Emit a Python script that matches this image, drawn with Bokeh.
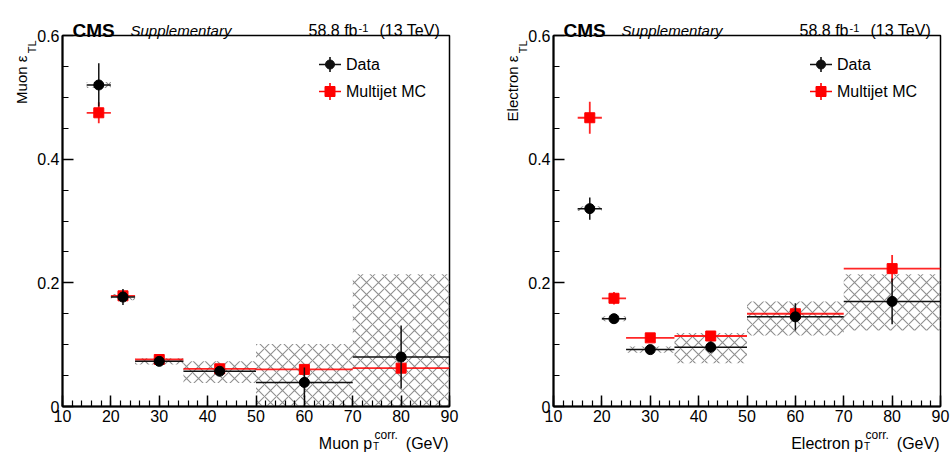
import math

from bokeh.embed import file_html
from bokeh.layouts import column, row
from bokeh.models import (ColumnDataSource, CustomJSTickFormatter, FixedTicker,
                          Label, SingleIntervalTicker, Title)
from bokeh.plotting import figure
from bokeh.resources import INLINE

# pT(corr.) binning (GeV)
bin_lo = [15, 20, 25, 35, 50, 70]
bin_hi = [20, 25, 35, 50, 70, 90]
bin_center = [17.5, 22.5, 30, 42.5, 60, 80]

# Muon tight-to-loose ratio
muon_data = [0.520, 0.177, 0.073, 0.057, 0.039, 0.080]
muon_data_err = [0.035, 0.013, 0.004, 0.004, 0.024, 0.051]
muon_mc = [0.475, 0.179, 0.076, 0.061, 0.060, 0.062]
muon_mc_err = [0.017, 0.006, 0.003, 0.003, 0.004, 0.005]
muon_syst_lo = [0.515, 0.172, 0.068, 0.038, 0.000, 0.000]
muon_syst_hi = [0.525, 0.182, 0.078, 0.073, 0.101, 0.214]

# Electron tight-to-loose ratio
ele_data = [0.320, 0.142, 0.092, 0.096, 0.145, 0.170]
ele_data_err = [0.018, 0.005, 0.004, 0.009, 0.022, 0.037]
ele_mc = [0.467, 0.175, 0.111, 0.114, 0.150, 0.223]
ele_mc_err = [0.026, 0.010, 0.004, 0.008, 0.010, 0.022]
ele_syst_lo = [0.316, 0.138, 0.087, 0.070, 0.115, 0.123]
ele_syst_hi = [0.324, 0.146, 0.097, 0.119, 0.170, 0.214]

# axis ticks
y_major = [0, 0.2, 0.4, 0.6]
y_minor = [0.05, 0.1, 0.15, 0.25, 0.3, 0.35, 0.45, 0.5, 0.55]

X_RANGE = (10, 90)
Y_RANGE = (0, 0.6)
PANEL_W, PANEL_H = 476, 452
FRAME_W, FRAME_H = 387, 371
FRAME_TOP = 35
FONT = "Liberation Sans"
RED = "#ff0000"
BLACK = "#111111"


def to_data(px, py):
    """Frame pixel offsets (from bottom-left) to data coordinates."""
    x = X_RANGE[0] + px * (X_RANGE[1] - X_RANGE[0]) / FRAME_W
    y = Y_RANGE[0] + py * (Y_RANGE[1] - Y_RANGE[0]) / FRAME_H
    return x, y


def put(p, x, y, text, size, units="screen", **kw):
    kw.setdefault("text_baseline", "alphabetic")
    p.add_layout(Label(x=x, y=y, x_units=units, y_units=units, text=text,
                       text_font=FONT, text_font_size=f"{size}px",
                       text_color="black", **kw))


def make_panel(lepton, data, data_err, mc, mc_err, syst_lo, syst_hi,
               border_left):
    p = figure(width=PANEL_W, height=PANEL_H, x_range=X_RANGE,
               y_range=Y_RANGE, output_backend="svg", toolbar_location=None,
               title=None, min_border_left=border_left,
               min_border_right=PANEL_W - border_left - FRAME_W,
               min_border_top=FRAME_TOP,
               min_border_bottom=PANEL_H - FRAME_TOP - FRAME_H)
    p.xgrid.visible = False
    p.ygrid.visible = False
    p.outline_line_color = "black"
    p.outline_line_width = 1.5
    p.background_fill_color = "white"
    p.border_fill_color = "white"

    p.xaxis.ticker = SingleIntervalTicker(interval=10, num_minor_ticks=5)
    p.yaxis.ticker = FixedTicker(ticks=y_major, minor_ticks=y_minor)
    p.yaxis.formatter = CustomJSTickFormatter(
        code="return tick.toFixed(1).replace(/\\.0$/, '');")
    for ax in (p.xaxis[0], p.yaxis[0]):
        ax.axis_line_width = 2
        ax.axis_line_color = "black"
        ax.major_tick_in = 11
        ax.major_tick_out = 0
        ax.minor_tick_in = 6
        ax.minor_tick_out = 0
        ax.major_tick_line_width = 1.5
        ax.minor_tick_line_width = 1.2
        ax.major_tick_line_color = "black"
        ax.minor_tick_line_color = "black"
        ax.major_label_text_font = FONT
        ax.major_label_text_font_size = "16px"
        ax.major_label_text_color = "black"
    p.xaxis.major_label_standoff = 3
    p.yaxis.major_label_standoff = 3

    # y-axis title, <lepton> eps_TL, as stacked side titles
    p.add_layout(Title(text="TL", align="right", offset=5, standoff=-7,
                       text_font=FONT, text_font_size="11px",
                       text_font_style="normal", text_color="black"), "left")
    p.add_layout(Title(text=f"{lepton} \u03b5", align="right", offset=20,
                       standoff=-5, text_font=FONT, text_font_size="15px",
                       text_font_style="normal", text_color="black"), "left")

    src = ColumnDataSource(dict(
        center=bin_center, lo=bin_lo, hi=bin_hi,
        data=data, data_dn=[v - e for v, e in zip(data, data_err)],
        data_up=[v + e for v, e in zip(data, data_err)],
        mc=mc, mc_dn=[v - e for v, e in zip(mc, mc_err)],
        mc_up=[v + e for v, e in zip(mc, mc_err)],
        syst_lo=syst_lo, syst_hi=syst_hi,
    ))

    # systematic band (hatched)
    p.quad(left="lo", right="hi", bottom="syst_lo", top="syst_hi", source=src,
           fill_alpha=0, line_alpha=0, hatch_pattern="diagonal_cross",
           hatch_color="#8f8f8f", hatch_weight=1.1, hatch_scale=12)

    # multijet MC
    p.segment(x0="lo", x1="hi", y0="mc", y1="mc", source=src,
              line_color=RED, line_width=1.8, line_alpha=0.85)
    p.segment(x0="center", x1="center", y0="mc_dn", y1="mc_up", source=src,
              line_color=RED, line_width=1.8, line_alpha=0.85)
    p.scatter(x="center", y="mc", source=src, marker="square", size=10,
              fill_color=RED, line_color=RED)

    # data
    p.segment(x0="lo", x1="hi", y0="data", y1="data", source=src,
              line_color=BLACK, line_width=1.5)
    p.segment(x0="center", x1="center", y0="data_dn", y1="data_up", source=src,
              line_color=BLACK, line_width=1.5)
    p.scatter(x="center", y="data", source=src, marker="circle", size=10,
              fill_color="black", line_color="black")

    # legend
    key_px = 267.5
    for row_py, label, color, marker, vhalf in (
            (342, "Data", BLACK, "circle", 7.5),
            (315, "Multijet MC", RED, "square", 8.5)):
        kx, ky = to_data(key_px, row_py)
        x0, _ = to_data(key_px - 11, row_py)
        x1, _ = to_data(key_px + 11, row_py)
        _, y0 = to_data(key_px, row_py - vhalf)
        _, y1 = to_data(key_px, row_py + vhalf)
        p.segment(x0=[x0, kx], x1=[x1, kx], y0=[ky, y0], y1=[ky, y1],
                  line_color=color, line_width=1.6)
        p.scatter(x=[kx], y=[ky], marker=marker,
                  size=9 if marker == "circle" else 10,
                  fill_color=color, line_color=color)
        put(p, key_px + 16, row_py, label, 16, text_baseline="middle")
    return p


def make_titles(lepton, fl):
    """Transparent text layer over a panel: x and y in panel pixels."""
    ov = figure(width=PANEL_W, height=PANEL_H, x_range=(fl, fl + FRAME_W),
                y_range=(PANEL_H, 0), output_backend="svg",
                toolbar_location=None, title=None, x_axis_location=None,
                y_axis_location=None, min_border=0, min_border_left=fl,
                min_border_right=PANEL_W - fl - FRAME_W, min_border_top=0,
                min_border_bottom=0, outline_line_color=None,
                border_fill_color=None, background_fill_color=None,
                margin=(-PANEL_H, 0, 0, 0))
    ov.grid.visible = False

    # header
    put(ov, fl + 10, 29.5, "CMS", 19, "data", text_font_style="bold")
    put(ov, fl + 68, 29.5, "Supplementary", 15, "data",
        text_font_style="italic")
    put(ov, fl + 295, 29.5, "58.8 fb", 16, "data", text_align="right")
    put(ov, fl + 296, 27.5, "-1", 11, "data")
    put(ov, fl + 377.5, 29.5, "(13 TeV)", 16, "data", text_align="right")

    # x-axis title: <lepton> p_T^corr. (GeV)
    put(ov, fl + 309.7, 443, f"{lepton} p", 16, "data", text_align="right")
    put(ov, fl + 310.5, 446, "T", 10, "data")
    put(ov, fl + 312, 434.5, "corr.", 12, "data")
    put(ov, fl + 386, 443, "(GeV)", 16, "data", text_align="right")
    return ov


left = make_panel("Muon", muon_data, muon_data_err, muon_mc, muon_mc_err,
                  muon_syst_lo, muon_syst_hi, 62)
right = make_panel("Electron", ele_data, ele_data_err, ele_mc, ele_mc_err,
                   ele_syst_lo, ele_syst_hi, 77)

layout = row(column(left, make_titles("Muon", 62), spacing=0),
             column(right, make_titles("Electron", 77), spacing=0),
             spacing=0)
open("out.html", "w").write(file_html(layout, INLINE))
